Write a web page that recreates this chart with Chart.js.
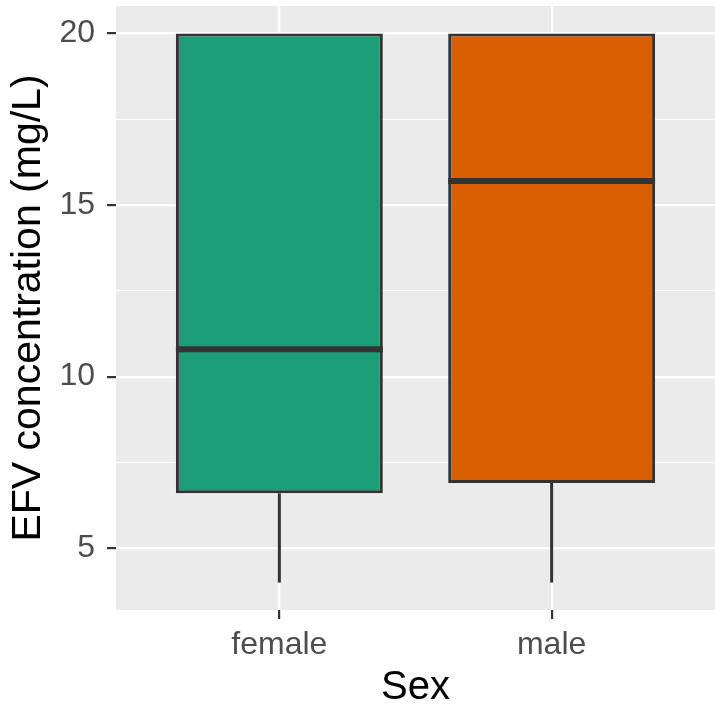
<!DOCTYPE html>
<html>
<head>
<meta charset="utf-8">
<script src="https://cdn.jsdelivr.net/npm/chart.js@4.4.0/dist/chart.umd.min.js"></script>
<style>
    body { margin: 0; background: #ffffff; }
    canvas { display: block; }
</style>
</head>
<body>
<canvas id="box-chart" width="715" height="714"></canvas>
<script>
var categories = ['female', 'male'];
var mins = [4.0, 4.0];
var q1s = [6.6, 6.9];
var medians = [10.8, 15.7];
var q3s = [20, 20];
var maxs = [20, 20];
var boxColors = ['#1B9E77', '#D95F02'];
var yTicks = [5, 7.5, 10, 12.5, 15, 17.5, 20];

var boxData = [];
for (var i = 0; i < categories.length; i++) {
    boxData.push({x: i + 1, y: [q1s[i], q3s[i]]});
}

function isMajor(v) {
    return v % 5 === 0;
}

var panelPlugin = {
    id: 'panel',
    beforeDraw: function (chart) {
        var a = chart.chartArea;
        var ctx = chart.ctx;
        ctx.save();
        ctx.fillStyle = '#EBEBEB';
        ctx.fillRect(a.left, a.top, a.right - a.left, a.bottom - a.top);
        ctx.restore();
    },
    beforeDatasetsDraw: function (chart) {
        // whiskers
        var x = chart.scales.x, y = chart.scales.y, ctx = chart.ctx;
        ctx.save();
        ctx.strokeStyle = '#333333';
        ctx.lineWidth = 3;
        for (var i = 0; i < categories.length; i++) {
            var px = x.getPixelForValue(i + 1);
            ctx.beginPath();
            ctx.moveTo(px, y.getPixelForValue(q1s[i]));
            ctx.lineTo(px, y.getPixelForValue(mins[i]));
            ctx.moveTo(px, y.getPixelForValue(q3s[i]));
            ctx.lineTo(px, y.getPixelForValue(maxs[i]));
            ctx.stroke();
        }
        ctx.restore();
    },
    afterDatasetsDraw: function (chart) {
        // medians
        var y = chart.scales.y, ctx = chart.ctx;
        var meta = chart.getDatasetMeta(0);
        ctx.save();
        ctx.strokeStyle = '#333333';
        ctx.lineWidth = 6;
        for (var i = 0; i < categories.length; i++) {
            var bar = meta.data[i];
            var py = y.getPixelForValue(medians[i]);
            ctx.beginPath();
            ctx.moveTo(bar.x - bar.width / 2, py);
            ctx.lineTo(bar.x + bar.width / 2, py);
            ctx.stroke();
        }
        ctx.restore();
    }
};

new Chart(document.getElementById('box-chart'), {
    type: 'bar',
    data: {
        datasets: [{
            data: boxData,
            backgroundColor: boxColors,
            borderColor: '#333333',
            borderWidth: 3,
            borderSkipped: false,
            barPercentage: 0.76,
            categoryPercentage: 1
        }]
    },
    options: {
        responsive: false,
        animation: false,
        layout: {padding: {top: 6, right: 0, left: 0, bottom: 0}},
        plugins: {
            legend: {display: false},
            tooltip: {enabled: false}
        },
        scales: {
            x: {
                type: 'linear',
                min: 0.4,
                max: 2.6,
                offset: false,
                afterBuildTicks: function (scale) {
                    scale.ticks = categories.map(function (c, i) { return {value: i + 1}; });
                },
                afterFit: function (scale) {
                    scale.height = 104;
                    scale.paddingLeft = 0;
                    scale.paddingRight = 0;
                },
                ticks: {
                    color: '#4D4D4D',
                    font: {family: 'Liberation Sans', size: 32},
                    padding: 7,
                    callback: function (v) { return categories[v - 1]; }
                },
                grid: {
                    offset: false,
                    color: '#FFFFFF',
                    lineWidth: 2.2,
                    tickColor: '#333333',
                    tickWidth: 2.2,
                    tickLength: 9
                },
                border: {display: false},
                title: {
                    display: true,
                    text: 'Sex',
                    color: '#000000',
                    font: {family: 'Liberation Sans', size: 40},
                    padding: {top: 0, bottom: 2}
                }
            },
            y: {
                min: 3.2,
                max: 20.8,
                afterBuildTicks: function (scale) {
                    scale.ticks = yTicks.map(function (v) { return {value: v}; });
                },
                afterFit: function (scale) {
                    scale.width = 116;
                    scale.paddingTop = 0;
                    scale.paddingBottom = 0;
                },
                ticks: {
                    color: '#4D4D4D',
                    font: {family: 'Liberation Sans', size: 32},
                    padding: 12,
                    callback: function (v) { return isMajor(v) ? String(v) : ''; }
                },
                grid: {
                    color: '#FFFFFF',
                    lineWidth: function (ctx) { return isMajor(ctx.tick.value) ? 2.2 : 1.1; },
                    tickColor: function (ctx) { return isMajor(ctx.tick.value) ? '#333333' : 'rgba(0,0,0,0)'; },
                    tickWidth: 2.2,
                    tickLength: 9
                },
                border: {display: false},
                title: {
                    display: true,
                    text: 'EFV concentration (mg/L)',
                    color: '#000000',
                    font: {family: 'Liberation Sans', size: 41},
                    padding: {top: 4, bottom: 0}
                }
            }
        }
    },
    plugins: [panelPlugin]
});
</script>
</body>
</html>
